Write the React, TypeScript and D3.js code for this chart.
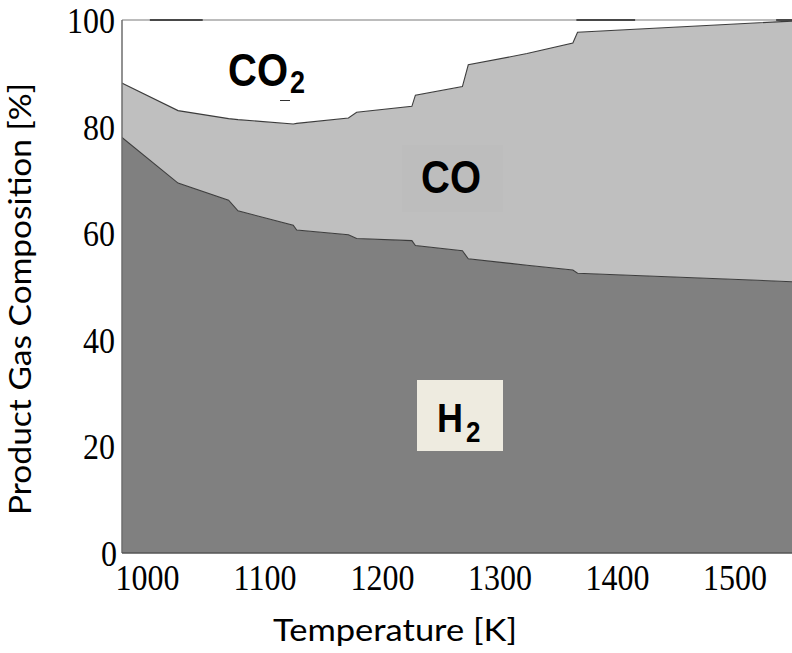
import React from 'react';
import * as d3 from 'd3';

// Product gas composition (mole %) versus temperature
const temperatureK = [978, 1026, 1069, 1077, 1124, 1127, 1171, 1178, 1225, 1228, 1268, 1273, 1323, 1362, 1366, 1549];
const h2Pct = [78.0, 69.4, 66.2, 64.2, 61.5, 60.6, 59.7, 59.0, 58.6, 57.7, 56.7, 55.2, 54.0, 53.1, 52.5, 50.9];
const coPct = [10.2, 13.6, 15.3, 17.1, 19.0, 20.0, 21.9, 23.7, 25.2, 28.2, 30.8, 36.4, 39.7, 42.6, 45.2, 48.9];
const co2Pct = [11.8, 17.0, 18.5, 18.7, 19.5, 19.4, 18.4, 17.3, 16.2, 14.1, 12.5, 8.4, 6.3, 4.3, 2.3, 0.2];

const xTicks = [1000, 1100, 1200, 1300, 1400, 1500];
const yTicks = [0, 20, 40, 60, 80, 100];

// stretches of the 100 % edge that are drawn in black
const topEdgeDark: [number, number][] = [[1002, 1047], [1365, 1415], [1535, 1549]];

const W = 792;
const H = 653;
const plot = { left: 122, right: 792, top: 20, bottom: 553 };

const x = d3.scaleLinear().domain([1000, 1500]).range([147.5, 735]);
const y = d3.scaleLinear().domain([0, 100]).range([plot.bottom, plot.top]);

type Row = { t: number; H2: number; CO: number; CO2: number };
const rows: Row[] = temperatureK.map((t, i) => ({ t, H2: h2Pct[i], CO: coPct[i], CO2: co2Pct[i] }));
const series = d3.stack<Row>().keys(['H2', 'CO', 'CO2'])(rows);

const area = d3
  .area<d3.SeriesPoint<Row>>()
  .x((d) => x(d.data.t))
  .y0((d) => y(d[0]))
  .y1((d) => y(d[1]));

const edge = d3
  .line<d3.SeriesPoint<Row>>()
  .x((d) => x(d.data.t))
  .y((d) => y(d[1]));

const fills: Record<string, string> = { H2: '#808080', CO: '#bfbfbf', CO2: '#ffffff' };

const SY = 1.15;
const serif = '"Liberation Serif", "Times New Roman", serif';
const sans = '"Liberation Sans", Arial, sans-serif';
const title = 'Lato, "Open Sans", sans-serif';

function SText(props: {
  x: number;
  y: number;
  size: number;
  family: string;
  weight?: string;
  anchor?: 'start' | 'middle' | 'end';
  children: React.ReactNode;
}) {
  return (
    <text
      transform={`translate(${props.x},${props.y}) scale(1,${SY})`}
      fontSize={props.size}
      fontFamily={props.family}
      fontWeight={props.weight ?? 'normal'}
      textAnchor={props.anchor ?? 'start'}
      fill="#000"
    >
      {props.children}
    </text>
  );
}

export default function App() {
  return (
    <svg
      width={W}
      height={H}
      viewBox={`0 0 ${W} ${H}`}
      style={{ position: 'absolute', left: 0, top: 0, display: 'block', background: '#fff' }}
    >
      <defs>
        <clipPath id="plotClip">
          <rect x={plot.left} y={plot.top} width={plot.right - plot.left} height={plot.bottom - plot.top} />
        </clipPath>
      </defs>

      <g clipPath="url(#plotClip)">
        {series.map((s) => (
          <path key={s.key} d={area(s) ?? ''} fill={fills[s.key]} />
        ))}
        {series.slice(0, 2).map((s) => (
          <path key={`e-${s.key}`} d={edge(s) ?? ''} fill="none" stroke="#3c3c3c" strokeWidth={1.1} />
        ))}
      </g>

      {/* frame */}
      <line x1={plot.left} x2={plot.right} y1={plot.top} y2={plot.top} stroke="#a6a6a6" strokeWidth={1.5} />
      {topEdgeDark.map(([a, b], i) => (
        <line key={i} x1={x(a)} x2={x(b)} y1={plot.top} y2={plot.top} stroke="#222" strokeWidth={1.5} />
      ))}
      <line x1={plot.left} x2={plot.left} y1={plot.top} y2={plot.bottom} stroke="#6e6e6e" strokeWidth={1.5} />
      <line x1={plot.left} x2={plot.right} y1={plot.bottom} y2={plot.bottom} stroke="#555" strokeWidth={1.5} />

      {/* tick labels */}
      {xTicks.map((t) => (
        <SText key={t} x={x(t)} y={590} size={32} family={serif} anchor="middle">
          {t}
        </SText>
      ))}
      {yTicks.map((v) => (
        <SText key={v} x={v === 0 ? 117 : 115} y={y(v) + 13} size={32} family={serif} anchor="end">
          {v}
        </SText>
      ))}

      {/* species labels */}
      <SText x={228} y={86} size={40} family={sans} weight="bold">CO</SText>
      <SText x={290} y={93} size={27} family={sans} weight="bold">2</SText>
      <line x1={280} x2={290} y1={100.5} y2={100.5} stroke="#333" strokeWidth={1} />

      <rect x={402} y={145} width={101} height={67} fill="#bdbdbd" />
      <SText x={421} y={193} size={40} family={sans} weight="bold">CO</SText>

      <rect x={417} y={380} width={86} height={71} fill="#eeebe0" />
      <SText x={437} y={432} size={36} family={sans} weight="bold">H</SText>
      <SText x={466} y={442} size={26} family={sans} weight="bold">2</SText>

      {/* axis titles */}
      <text x={273} y={641} fontSize={30} fontFamily={title} textLength={244} lengthAdjust="spacingAndGlyphs" fill="#000">
        Temperature [K]
      </text>
      <text
        transform="translate(31,299) rotate(-90)"
        fontSize={30}
        fontFamily={title}
        textAnchor="middle"
        textLength={432}
        lengthAdjust="spacingAndGlyphs"
        fill="#000"
      >
        Product Gas Composition [%]
      </text>
    </svg>
  );
}
